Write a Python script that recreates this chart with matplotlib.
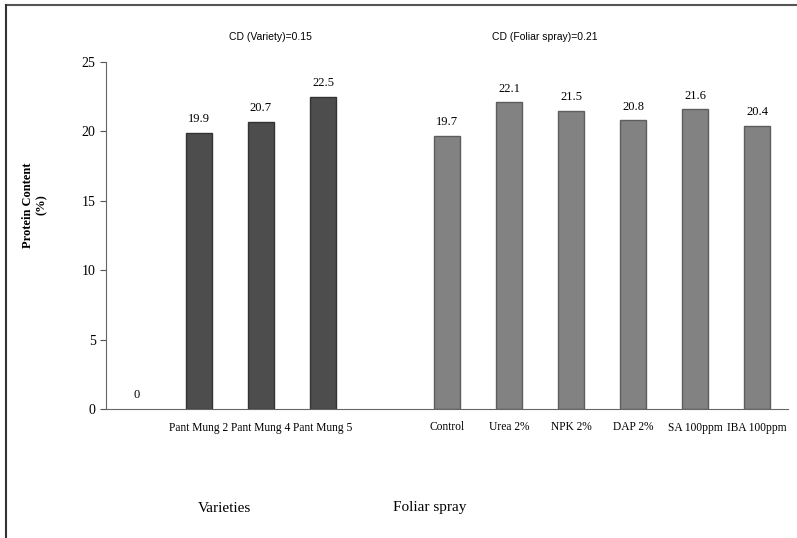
import matplotlib.pyplot as plt
from matplotlib.lines import Line2D

# data
categories = ['', 'Pant Mung 2', 'Pant Mung 4', 'Pant Mung 5', '',
              'Control', 'Urea 2%', 'NPK 2%', 'DAP 2%', 'SA 100ppm', 'IBA 100ppm']
variety_values = [0, 19.9, 20.7, 22.5]
foliar_values = [19.7, 22.1, 21.5, 20.8, 21.6, 20.4]
yticks = [0, 5, 10, 15, 20, 25]

plt.rcParams['font.family'] = ['Liberation Serif', 'DejaVu Serif']

fig = plt.figure(figsize=(7.97, 5.38), dpi=100)
ax = fig.add_axes([106 / 797, 1 - 409 / 538, 682 / 797, (409 - 62) / 538])

var_x = list(range(len(variety_values)))
fol_x = list(range(5, 5 + len(foliar_values)))

var_bars = ax.bar(var_x, variety_values, width=0.42, color='#4d4d4d', edgecolor='#333333', linewidth=1)
ax.bar(fol_x, foliar_values, width=0.42, color='#828282', edgecolor='#5e5e5e', linewidth=1)
# the zero bar shows no outline
for b, v in zip(var_bars, variety_values):
    if v == 0:
        b.set_linewidth(0)

for x, v in zip(var_x, variety_values):
    ax.text(x, v + 0.55, f'{v:g}', ha='center', va='bottom', fontsize=9)
for x, v in zip(fol_x, foliar_values):
    ax.text(x, v + 0.55, f'{v:g}', ha='center', va='bottom', fontsize=9)

ax.set_xlim(-0.5, len(categories) - 0.5)
ax.set_ylim(0, 25)
ax.set_yticks(yticks)
ax.set_xticks(range(len(categories)))
ax.set_xticklabels(categories, fontsize=8.3)
ax.tick_params(axis='x', length=0, pad=9)
ax.tick_params(axis='y', length=4, labelsize=10, color='#555555')
for s in ['top', 'right']:
    ax.spines[s].set_visible(False)
ax.spines['left'].set_color('#666666')
ax.spines['bottom'].set_color('#666666')

fig.text(35 / 797, 1 - 205 / 538, 'Protein Content\n(%)', rotation=90, ha='center', va='center',
         fontsize=9, fontweight='bold')

fig.text(270 / 797, 1 - 37 / 538, 'CD (Variety)=0.15', ha='center', va='center',
         fontsize=7.5, family='Liberation Sans')
fig.text(545 / 797, 1 - 37 / 538, 'CD (Foliar spray)=0.21', ha='center', va='center',
         fontsize=7.5, family='Liberation Sans')

fig.text(224 / 797, 1 - 508 / 538, 'Varieties', ha='center', va='center', fontsize=11)
fig.text(430 / 797, 1 - 508 / 538, 'Foliar spray', ha='center', va='center', fontsize=11)

# frame lines (top and left)
fig.add_artist(Line2D([6 / 797, 1], [1 - 5 / 538, 1 - 5 / 538], color='#555555', linewidth=1.5))
fig.add_artist(Line2D([6 / 797, 6 / 797], [0, 1 - 5 / 538], color='#333333', linewidth=1.5))

plt.savefig('out.png', dpi=100)
